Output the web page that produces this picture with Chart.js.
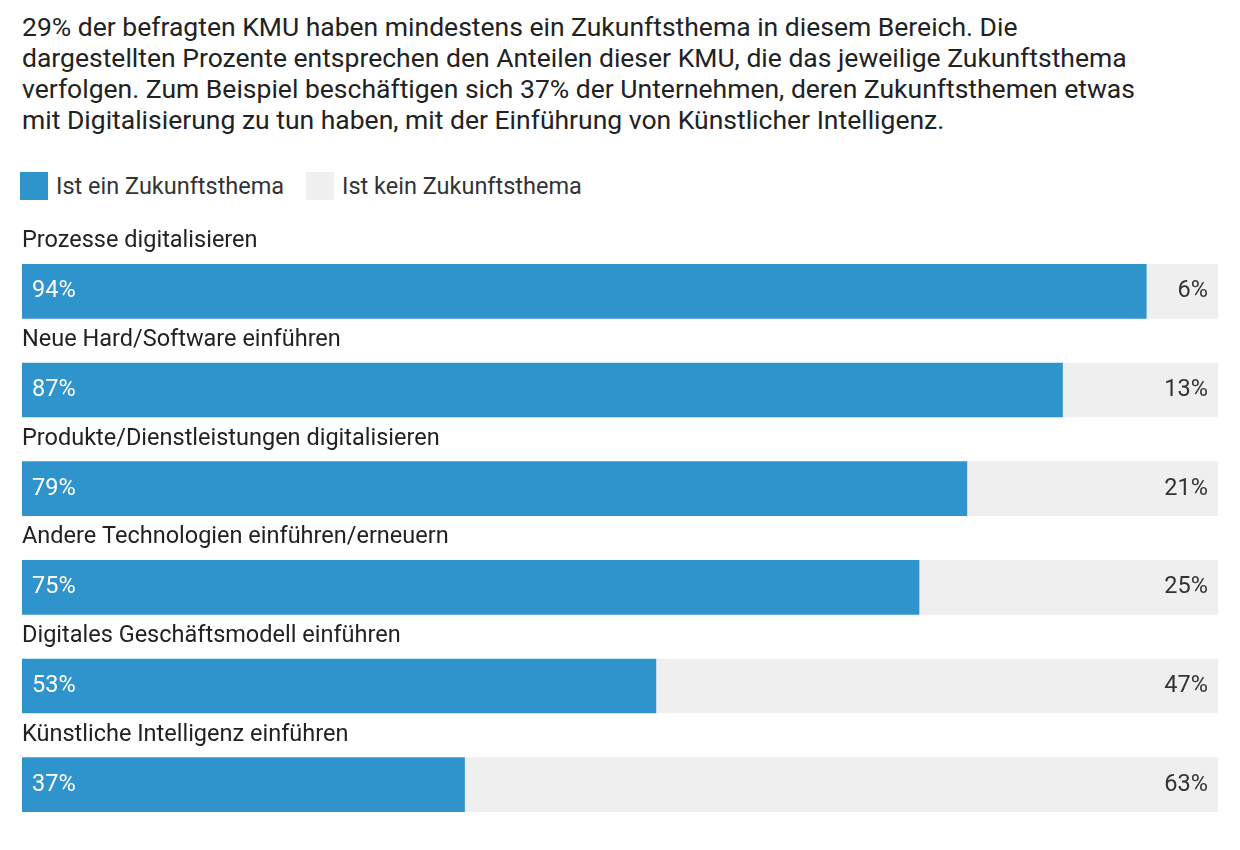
<!DOCTYPE html>
<html><head><meta charset="utf-8">
<script src="https://cdn.jsdelivr.net/npm/chart.js@4"></script>
<style>
html,body{margin:0;padding:0;background:#fff;width:1240px;height:850px;overflow:hidden;font-family:Roboto,sans-serif;color:#222}
#title{position:absolute;left:22px;top:11px;font-size:26.5px;line-height:31px;color:#222;white-space:nowrap}
.leg{position:absolute;top:172px;font-size:23.5px;line-height:28px;color:#333}
.sw{display:inline-block;width:28px;height:28px;vertical-align:top;margin-right:8px}
#wrap{position:absolute;left:0;top:0;width:1240px;height:850px}
</style></head><body>
<div id="title">29% der befragten KMU haben mindestens ein Zukunftsthema in diesem Bereich. Die<br>dargestellten Prozente entsprechen den Anteilen dieser KMU, die das jeweilige Zukunftsthema<br>verfolgen. Zum Beispiel beschäftigen sich 37% der Unternehmen, deren Zukunftsthemen etwas<br>mit Digitalisierung zu tun haben, mit der Einführung von Künstlicher Intelligenz.</div>
<div class="leg" style="left:20px"><span class="sw" style="background:#3094cc"></span>Ist ein Zukunftsthema</div>
<div class="leg" style="left:306px"><span class="sw" style="background:#efefef"></span>Ist kein Zukunftsthema</div>
<div id="wrap"><canvas id="c" width="1240" height="850"></canvas></div>
<script>
const categories=["Prozesse digitalisieren","Neue Hard/Software einführen","Produkte/Dienstleistungen digitalisieren","Andere Technologien einführen/erneuern","Digitales Geschäftsmodell einführen","Künstliche Intelligenz einführen"];
const yesValues=[94,87,79,75,53,37];
const noValues=[6,13,21,25,47,63];
const seriesNames=["Ist ein Zukunftsthema","Ist kein Zukunftsthema"];
const labelPlugin={id:'lbl',afterDatasetsDraw(chart){
 const ctx=chart.ctx;ctx.save();
 const m0=chart.getDatasetMeta(0),m1=chart.getDatasetMeta(1);
 ctx.font='23.5px Roboto, sans-serif';ctx.textBaseline='middle';
 m0.data.forEach((b,i)=>{
  ctx.fillStyle='#222';ctx.textAlign='left';
  ctx.fillText(categories[i],22,b.y-50);
  ctx.fillStyle='#fff';ctx.fillText(yesValues[i]+'%',32,b.y);
  ctx.fillStyle='#333';ctx.textAlign='right';
  ctx.fillText(noValues[i]+'%',m1.data[i].x-10,b.y);
 });
 ctx.restore();}};
new Chart(document.getElementById('c'),{type:'bar',
 data:{labels:categories,datasets:[
  {label:seriesNames[0],data:yesValues,backgroundColor:'#3094cc',barThickness:54,borderWidth:0},
  {label:seriesNames[1],data:noValues,backgroundColor:'#efefef',barThickness:54,borderWidth:0}]},
 options:{indexAxis:'y',responsive:false,animation:false,
  layout:{padding:{top:242,bottom:16,left:22,right:22}},
  plugins:{legend:{display:false},tooltip:{enabled:false}},
  scales:{x:{stacked:true,min:0,max:100,display:false},y:{stacked:true,display:false}}},
 plugins:[labelPlugin]});
</script></body></html>
